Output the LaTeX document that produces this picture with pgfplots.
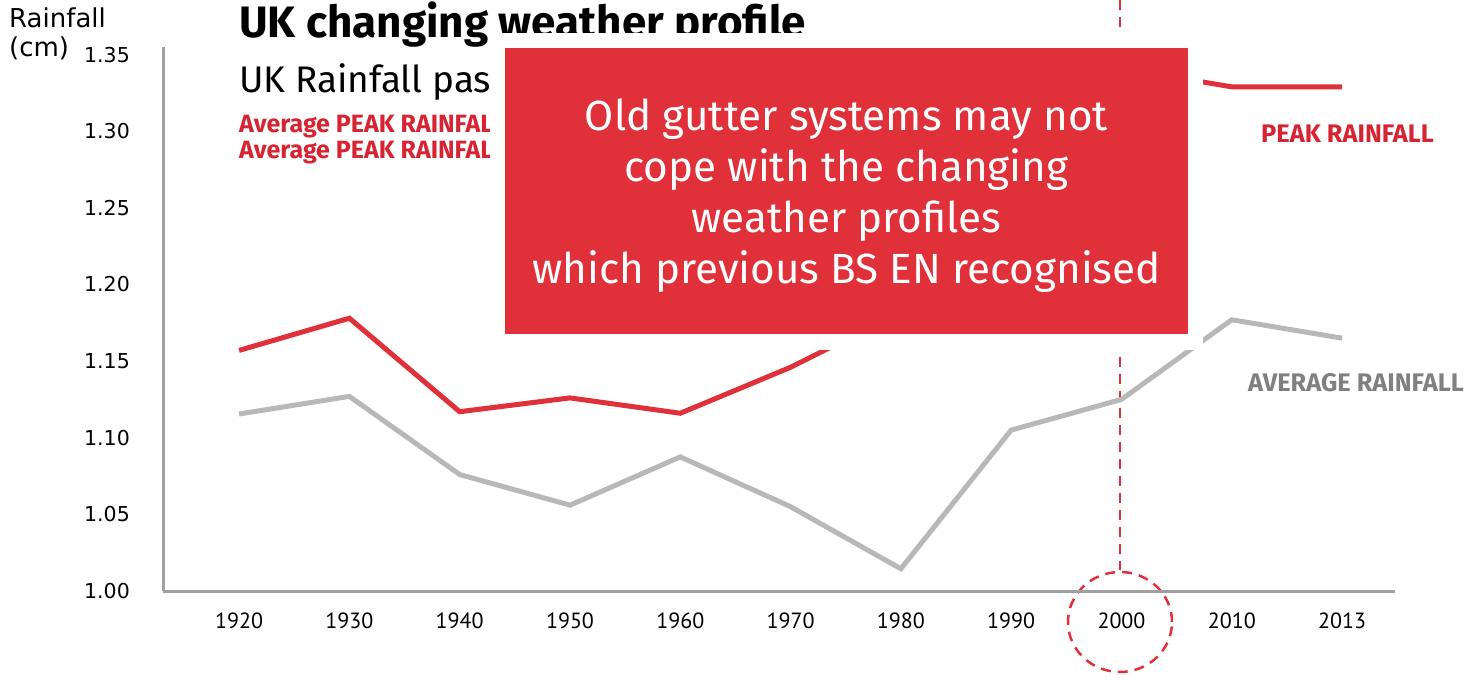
\documentclass[border=0pt]{standalone}
\usepackage{pgfplots}
\pgfplotsset{compat=1.18}
\usepackage{fontspec}
\setmainfont{Fira Sans}
\newfontfamily\dv{DejaVu Sans}
\newfontfamily\pt{PT Sans}
\definecolor{redline}{HTML}{E0303A}
\definecolor{redtext}{HTML}{D62432}
\definecolor{grayline}{HTML}{B8B8B8}
\definecolor{graytext}{HTML}{808080}
\definecolor{axisgray}{HTML}{A0A0A0}
\begin{document}
\begin{tikzpicture}[x=1pt,y=1pt]
\path[use as bounding box] (0,0) rectangle (1466,677);
% dashed marker for 2000
\draw[redline, line width=2.5pt, dash pattern=on 10pt off 7pt] (1120,677) -- (1120,107);
\draw[redline, line width=2.5pt, dash pattern=on 10pt off 7pt] (1120,55) ellipse [x radius=52, y radius=50];
\begin{axis}[
  at={(163pt,86pt)}, anchor=south west,
  scale only axis, width=1232pt, height=544pt,
  xmin=-0.69, xmax=10.48, ymin=1, ymax=1.355,
  axis x line=bottom, axis y line=left,
  axis line style={-, draw=axisgray, line width=3pt},
  major tick length=0pt,
  xtick={0,1,2,3,4,5,6,7,8,9,10},
  xticklabels={1920,1930,1940,1950,1960,1970,1980,1990,2000,2010,2013},
  ytick={1,1.05,1.1,1.15,1.2,1.25,1.3,1.35},
  yticklabels={1.00,1.05,1.10,1.15,1.20,1.25,1.30,1.35},
  xticklabel style={font=\pt\fontsize{22}{22}\selectfont, anchor=center, inner sep=0pt, yshift=-30pt},
  yticklabel style={font=\dv\fontsize{20.5}{20.5}\selectfont, anchor=east, inner sep=0pt, xshift=-33pt},
  clip=false,
]
\addplot[grayline, line width=5pt, line join=miter] coordinates {
(0,1.1155) (1,1.127) (2,1.076) (3,1.056) (4,1.0875) (5,1.055) (6,1.0145) (7,1.105) (8,1.125) (9,1.177) (10,1.165)};
\addplot[redline, line width=5pt, line join=miter] coordinates {
(0,1.157) (1,1.178) (2,1.117) (3,1.126) (4,1.116) (5,1.146) (6,1.182) (7,1.25) (8,1.341) (9,1.329) (10,1.329)};
\end{axis}
% titles
\node[anchor=base west, inner sep=0pt, font=\fontsize{44}{44}\selectfont\bfseries] at (239,639) {UK changing weather profile};
\node[anchor=base west, inner sep=0pt, font=\fontsize{37}{37}\selectfont] at (239,584) {UK Rainfall past century};
\node[anchor=base west, inner sep=0pt, font=\fontsize{25}{25}\selectfont\bfseries, text=redtext] at (239,544) {Average PEAK RAINFALL 1920--1990};
\node[anchor=base west, inner sep=0pt, font=\fontsize{25}{25}\selectfont\bfseries, text=redtext] at (239,518) {Average PEAK RAINFALL 2000--2013};
% y label
\node[anchor=base west, inner sep=0pt, font=\dv\fontsize{26}{26}\selectfont] at (9,649) {Rainfall};
\node[anchor=base west, inner sep=0pt, font=\dv\fontsize{26}{26}\selectfont] at (9,620) {(cm)};
% callout box
\fill[white] (490,327) rectangle (1203,644);
\fill[redline] (505,343) rectangle (1188,629);
\node[align=center, text=white, inner sep=0pt, font=\fontsize{42.2}{51}\selectfont] at (846.5,481) {Old gutter systems may not\\cope with the changing\\weather profiles\\which previous BS EN recognised};
% series labels
\node[anchor=base west, inner sep=0pt, font=\fontsize{25.4}{25.4}\selectfont\bfseries, text=redtext] at (1261,534) {PEAK RAINFALL};
\node[anchor=base west, inner sep=0pt, font=\fontsize{25.4}{25.4}\selectfont\bfseries, text=graytext] at (1248,285) {AVERAGE RAINFALL};
\end{tikzpicture}
\end{document}
